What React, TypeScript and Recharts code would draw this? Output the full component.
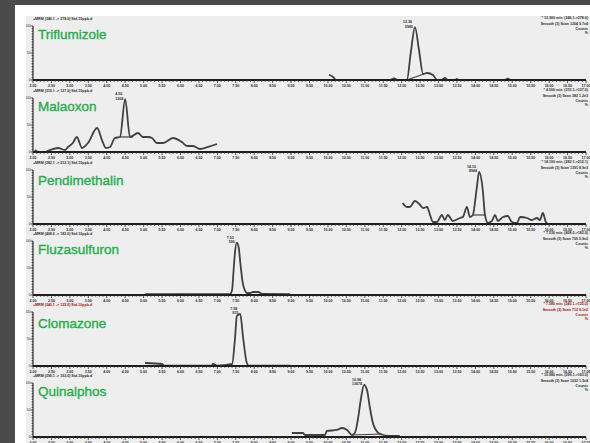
import React from "react"
import { LineChart, Line, XAxis, YAxis } from "recharts"

// retention time (min) vs relative abundance (%)
const triflumizoleTrace: [number, number][] = [
  [10.03, 9.8], [10.14, 5.6], [10.22, 0], [11.68, 0], [11.79, 2.8], [11.9, 0], [12.14, 0],
  [12.25, 51.9], [12.36, 98.1], [12.47, 55.6], [12.58, 11.1], [12.69, 13.0], [12.85, 9.3],
  [12.96, 0], [13.09, 0], [13.17, 3.7], [13.25, 0], [13.46, 0], [13.5, 1.9], [13.54, 0],
  [14.8, 0], [14.88, 2.5], [14.95, 0],
]
const triflumizoleBase: [number, number][] = [[12.14, 0], [12.6, 11.1]]

const malaoxonTrace: [number, number][] = [
  [2.05, 3.7], [2.14, 0], [2.33, 0], [2.46, 3.7], [2.68, 7.4], [2.87, 3.7], [2.95, 9.3],
  [3.08, 16.7], [3.19, 27.8], [3.33, 7.4], [3.49, 16.7], [3.74, 44.4], [3.87, 22.2],
  [3.98, 7.4], [4.09, 9.3], [4.22, 25.9], [4.36, 27.8], [4.5, 98], [4.63, 27.8],
  [4.85, 35.2], [4.98, 27.8], [5.12, 27.8], [5.23, 25.9], [5.36, 16.7], [5.53, 16.7],
  [5.8, 25.9], [6.04, 18.5], [6.18, 11.1], [6.34, 11.1], [6.53, 5.6], [6.75, 9.3], [6.99, 14.8],
]
const malaoxonBase: [number, number][] = [[4.36, 27.8], [4.71, 27.8]]

const pendimethalinTrace: [number, number][] = [
  [12.03, 38.9], [12.14, 31.5], [12.22, 31.5], [12.36, 42.6], [12.5, 35.2], [12.58, 29.6],
  [12.69, 31.5], [12.77, 16.7], [12.85, 3.7], [12.96, 3.7], [13.09, 16.7], [13.17, 7.4],
  [13.25, 16.7], [13.39, 5.6], [13.58, 11.1], [13.66, 13.0], [13.77, 31.5], [13.85, 13.0],
  [13.93, 16.7], [14.04, 68.5], [14.1, 96.3], [14.2, 63.0], [14.26, 16.7], [14.34, 1.9],
  [14.45, 5.6], [14.53, 16.7], [14.61, 5.6], [14.75, 13.0], [14.88, 14.8], [14.99, 3.7],
  [15.13, 1.9], [15.21, 13.0], [15.4, 11.1], [15.53, 7.4], [15.67, 11.1], [15.75, 7.4],
  [15.83, 20.4], [15.91, 3.7], [15.97, 0],
]
const pendimethalinBase: [number, number][] = [[13.93, 16.7], [14.26, 16.7]]

const fluzasulfuronTrace: [number, number][] = [
  [5.04, 1.5], [7.34, 1.5], [7.4, 9.3], [7.44, 45], [7.48, 80], [7.53, 97], [7.58, 88],
  [7.63, 55], [7.69, 22], [7.75, 8], [7.8, 3.7], [7.89, 3.7], [7.97, 5.6], [8.1, 5.6],
  [8.24, 1.9], [8.97, 1.5],
]

const clomazoneTrace: [number, number][] = [
  [5.04, 5.6], [5.5, 3.7], [5.55, 0.5], [6.85, 0.5], [6.88, 3.7], [6.99, 0.5], [7.4, 3.7],
  [7.48, 51.9], [7.53, 92.6], [7.62, 96.3], [7.7, 51.9], [7.8, 5.6], [7.86, 0.5], [8.97, 0.5],
]

const quinalphosTrace: [number, number][] = [
  [9.02, 7.4], [9.32, 7.4], [9.38, 3.7], [9.92, 3.7], [9.97, 11.1], [10.24, 13.0],
  [10.38, 16.7], [10.52, 13.0], [10.65, 3.7], [10.73, 7.4], [10.81, 31.5], [10.89, 68.5],
  [10.98, 96.3], [11.06, 87.0], [11.14, 53.7], [11.22, 25.9], [11.3, 13.0], [11.41, 5.6],
  [11.68, 1.9], [11.95, 1.9],
]
const quinalphosBase: [number, number][] = [[10.65, 3.7], [11.47, 5.6]]

const compoundNames = ["Triflumizole", "Malaoxon", "Pendimethalin", "Fluzasulfuron", "Clomazone", "Quinalphos"]
const peakLabels = [
  ["12.36", "5985"], ["4.50", "1204"], ["14.10", "8984"],
  ["7.53", "596"], ["7.58", "915"], ["10.98", "13674"],
]
const headerTexts = [
  "+MRM (346.1 -> 278.0) Std-10ppb.d",
  "+MRM (315.1 -> 127.0) Std-10ppb.d",
  "+MRM (282.1 -> 212.1) Std-10ppb.d",
  "+MRM (408.0 -> 182.0) Std-10ppb.d",
  "+MRM (240.1 -> 125.0) Std-10ppb.d",
  "+MRM (299.1 -> 163.0) Std-10ppb.d",
]
const noteTexts = [
  ["* 12.360 min. (346.1->278.0)", "Smooth (3) Scan 1204 9.7e4", "Counts", "%"],
  ["* 4.500 min. (315.1->127.0)", "Smooth (3) Scan 382 1.2e3", "Counts", "%"],
  ["* 14.100 min. (282.1->212.1)", "Smooth (3) Scan 1391 8.9e3", "Counts", "%"],
  ["* 7.530 min. (408.0->182.0)", "Smooth (3) Scan 705 5.9e2", "Counts", "%"],
  ["* 7.580 min. (240.1->125.0)", "Smooth (3) Scan 712 9.1e2", "Counts", "%"],
  ["* 10.980 min. (299.1->163.0)", "Smooth (3) Scan 1032 1.3e4", "Counts", "%"],
]

const xTickLabels = [
  "2.00", "2.50", "3.00", "3.50", "4.00", "4.50", "5.00", "5.50", "6.00", "6.50", "7.00",
  "7.50", "8.00", "8.50", "9.00", "9.50", "10.00", "10.50", "11.00", "11.50", "12.00",
  "12.50", "13.00", "13.50", "14.00", "14.50", "15.00", "15.50", "16.00", "16.50", "17.00",
]
const xMajorTicks = xTickLabels.map(Number)
const xMinorTicks = Array.from({ length: 151 }, (_, i) => +(2 + i * 0.1).toFixed(1))
const yTicks = Array.from({ length: 21 }, (_, i) => i * 5)
const yTickLabels: Record<number, string> = { 0: "0", 50: "50", 100: "100" }

const traces = [triflumizoleTrace, malaoxonTrace, pendimethalinTrace, fluzasulfuronTrace, clomazoneTrace, quinalphosTrace]
const integrations = [triflumizoleBase, malaoxonBase, pendimethalinBase, null, null, quinalphosBase]

// layout
const chartTops = [16, 88, 160, 231, 302, 373]
const titleBaselines = [39, 111, 185, 254, 328, 396]
const CHART_W = 564
const CHART_H = 72
const GREEN = "#1fae4b"
const INK = "#2b2b2b"
const TRACE = "#404040"
const RED = "#a01010"

const toRows = (pairs: [number, number][]) => pairs.map(([t, v]) => ({ t, v }))

function TimeTick(props: any) {
  const { x, y, payload } = props
  const major = xMajorTicks.findIndex((m) => Math.abs(m - payload.value) < 1e-6)
  return (
    <g>
      <line x1={x} x2={x} y1={y} y2={y + (major >= 0 ? 3 : 1.8)} stroke={INK} strokeWidth={0.8} />
      {major >= 0 && (
        <text x={x} y={y + 6.5} fontSize={3.6} fontWeight="bold" textAnchor="middle" fill={INK}>
          {xTickLabels[major]}
        </text>
      )}
    </g>
  )
}

function AbundanceTick(props: any) {
  const { x, y, payload } = props
  const label = yTickLabels[payload.value]
  return (
    <g>
      <line x1={x} x2={x - (label ? 2.2 : 1.4)} y1={y} y2={y} stroke={INK} strokeWidth={0.8} />
      {label && (
        <text x={x - 2.4} y={y + 1.2} fontSize={3.4} textAnchor="end" fill={INK}>
          {label}
        </text>
      )}
    </g>
  )
}

function Panel({ index }: { index: number }) {
  const rows = toRows(traces[index])
  const apex = rows.reduce((best, r, i) => (r.v > rows[best].v ? i : best), 0)
  const integ = integrations[index]
  const [rt, area] = peakLabels[index]

  const renderPeakLabel = (p: any) => {
    if (p.index !== apex) return <g />
    return (
      <g>
        <text x={p.x - 3} y={p.y - 4} fontSize={3.6} fontWeight="bold" textAnchor="end" fill={INK}>{rt}</text>
        <text x={p.x - 2} y={p.y + 0.5} fontSize={3.6} fontWeight="bold" textAnchor="end" fill={INK}>{area}</text>
      </g>
    )
  }

  return (
    <div style={{ position: "absolute", left: 26, top: chartTops[index], width: CHART_W, height: CHART_H }}>
      <LineChart width={CHART_W} height={CHART_H} data={rows} margin={{ top: 10, right: 4, bottom: 0, left: 0 }}>
        <XAxis
          type="number"
          dataKey="t"
          domain={[2, 17]}
          allowDataOverflow
          ticks={xMinorTicks}
          interval={0}
          tickSize={0}
          tickMargin={0}
          height={8}
          tick={<TimeTick />}
          axisLine={{ stroke: "#1e1e1e", strokeWidth: 2 }}
        />
        <YAxis
          type="number"
          domain={[0, 100]}
          ticks={yTicks}
          interval={0}
          tickSize={0}
          tickMargin={0}
          width={7}
          tick={<AbundanceTick />}
          axisLine={{ stroke: INK, strokeWidth: 1.2 }}
        />
        <Line
          dataKey="v"
          type="monotone"
          stroke={TRACE}
          strokeWidth={1.8}
          dot={false}
          isAnimationActive={false}
          label={renderPeakLabel}
        />
        {integ && (
          <Line
            data={toRows(integ)}
            dataKey="v"
            type="linear"
            stroke={TRACE}
            strokeWidth={1.2}
            dot={false}
            isAnimationActive={false}
          />
        )}
      </LineChart>
    </div>
  )
}

export default function App() {
  return (
    <div
      style={{
        position: "fixed",
        left: 0,
        top: 0,
        width: 590,
        height: 443,
        background: "#4b4b4b",
        overflow: "hidden",
        fontFamily: "'Liberation Sans', Arial, sans-serif",
      }}
    >
      <div style={{ position: "absolute", left: 15, top: 5, right: 0, bottom: 0, background: "#ffffff" }} />
      <div style={{ position: "absolute", left: 26, top: 16, right: 0, bottom: 0, background: "#eeeeee" }} />
      {compoundNames.map((_, i) => (
        <Panel key={i} index={i} />
      ))}
      <svg
        width={590}
        height={443}
        style={{ position: "absolute", left: 0, top: 0, pointerEvents: "none" }}
        fontFamily="'Liberation Sans', Arial, sans-serif"
      >
        {compoundNames.map((name, i) => {
          const top = chartTops[i]
          const ink = i === 4 ? RED : INK
          return (
            <g key={name}>
              <text x={33} y={top + 3.8} fontSize={3.6} fontWeight="bold" fill={ink}>
                {headerTexts[i]}
              </text>
              {noteTexts[i].map((line, j) => (
                <text
                  key={j}
                  x={588}
                  y={top + [2.5, 8.5, 13.5, 17.5][j]}
                  fontSize={3.6}
                  fontWeight="bold"
                  textAnchor="end"
                  fill={ink}
                >
                  {line}
                </text>
              ))}
              <text x={38} y={titleBaselines[i]} fontSize={13.5} fill={GREEN} stroke={GREEN} strokeWidth={0.35}>
                {name}
              </text>
            </g>
          )
        })}
      </svg>
    </div>
  )
}
